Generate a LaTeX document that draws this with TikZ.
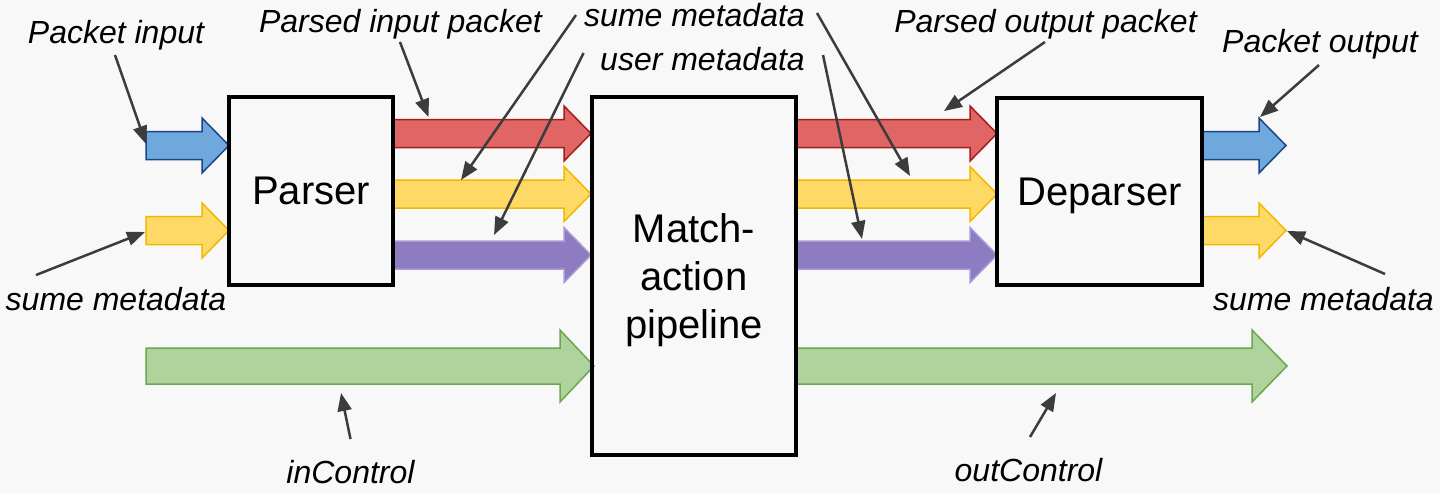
\documentclass[tikz,border=0pt]{standalone}
\usepackage{fontspec}
\setmainfont{Liberation Sans}
\usepackage{xcolor}
\usepackage{tikz}
\usetikzlibrary{arrows.meta}

\definecolor{bgcol}{HTML}{F8F8F8}
\definecolor{ptrgray}{HTML}{3C3C3C}
\definecolor{redfill}{HTML}{E06666}
\definecolor{redline}{HTML}{A61C1C}
\definecolor{bluefill}{HTML}{6FA8DC}
\definecolor{blueline}{HTML}{1C4587}
\definecolor{yelfill}{HTML}{FFD966}
\definecolor{yelline}{HTML}{F1B800}
\definecolor{purfill}{HTML}{8E7CC3}
\definecolor{purline}{HTML}{A99BD6}
\definecolor{grnfill}{HTML}{B0D39E}
\definecolor{grnline}{HTML}{6AA84F}

\tikzset{
  block/.style={draw, line width=1.6pt, inner sep=0pt, text depth=0pt, align=center, font=\fontsize{20}{24}\selectfont},
  lbl/.style={anchor=base, inner sep=0pt, font=\fontsize{16}{19}\selectfont\itshape},
  ptr/.style={draw=ptrgray, line width=1.25pt, -{Triangle[length=9pt,width=7pt]}},
  bus/.style={line width=0.75pt, line join=miter},
  redbus/.style={bus, fill=redfill, draw=redline},
  bluebus/.style={bus, fill=bluefill, draw=blueline},
  yelbus/.style={bus, fill=yelfill, draw=yelline},
  purbus/.style={bus, fill=purfill, draw=purline},
  grnbus/.style={bus, fill=grnfill, draw=grnline}
}

\begin{document}
\begin{tikzpicture}[x=0.5pt, y=-0.5pt]

\fill [bgcol] (0,0) rectangle (1440,493);
\useasboundingbox (0,0) rectangle (1440,493);

% Parser inputs
\draw [bluebus] (146,131.5) -- (202,131.5) -- (202,118) -- (229,145.5) -- (202,173) -- (202,159.5) -- (146,159.5) -- cycle;
\draw [yelbus] (146,216.5) -- (202,216.5) -- (202,203) -- (229,230.5) -- (202,258) -- (202,244.5) -- (146,244.5) -- cycle;

% Parser -> pipeline
\draw [redbus] (393,119.5) -- (564,119.5) -- (564,106) -- (591,133.5) -- (564,161) -- (564,147.5) -- (393,147.5) -- cycle;
\draw [yelbus] (393,180) -- (564,180) -- (564,166.5) -- (591,194) -- (564,221.5) -- (564,208) -- (393,208) -- cycle;
\draw [purbus] (393,241) -- (564,241) -- (564,227.5) -- (591,255) -- (564,282.5) -- (564,269) -- (393,269) -- cycle;

% pipeline -> Deparser
\draw [redbus] (796,119.5) -- (970,119.5) -- (970,106) -- (997,133.5) -- (970,161) -- (970,147.5) -- (796,147.5) -- cycle;
\draw [yelbus] (796,180) -- (970,180) -- (970,166.5) -- (997,194) -- (970,221.5) -- (970,208) -- (796,208) -- cycle;
\draw [purbus] (796,241) -- (970,241) -- (970,227.5) -- (997,255) -- (970,282.5) -- (970,269) -- (796,269) -- cycle;

% Deparser outputs
\draw [bluebus] (1202,131.5) -- (1259,131.5) -- (1259,118) -- (1286,145.5) -- (1259,173) -- (1259,159.5) -- (1202,159.5) -- cycle;
\draw [yelbus] (1202,216.5) -- (1259,216.5) -- (1259,203) -- (1286,230.5) -- (1259,258) -- (1259,244.5) -- (1202,244.5) -- cycle;

% Control
\draw [grnbus] (146,348) -- (560,348) -- (560,330) -- (594,366) -- (560,402) -- (560,384) -- (146,384) -- cycle;
\draw [grnbus] (797,348) -- (1252,348) -- (1252,330) -- (1287,366) -- (1252,402) -- (1252,384) -- (797,384) -- cycle;

%==============================================================================================

% Blocks
\node [block, minimum width=82pt, minimum height=94pt] (P) at (311,191) {Parser};
\node [block, minimum width=102pt, minimum height=179pt] (M) at (694,276) {Match-\\action\\pipeline};
\node [block, minimum width=102.5pt, minimum height=93.5pt] (D) at (1099.5,191.5) {Deparser};

% Naming
\node [lbl] (PI) at (116,43) {Packet input};
\node [lbl] (SMI) at (116,310) {sume metadata};
\node [lbl] (PIP) at (400.5,32) {Parsed input packet};
\node [lbl] (SMM) at (694.5,26) {sume metadata};
\node [lbl] (UM) at (702.5,70) {user metadata};
\node [lbl] (POP) at (1045.5,32) {Parsed output packet};
\node [lbl] (PO) at (1320,52) {Packet output};
\node [lbl] (SMO) at (1323.5,310) {sume metadata};
\node [lbl] (IC) at (350.5,483) {inControl};
\node [lbl] (OC) at (1028.5,481) {outControl};

% Pointers
\coordinate (PIa) at (115,55);    \coordinate (PIb) at (146,144);
\coordinate (SMIa) at (36,275);   \coordinate (SMIb) at (145,232);
\coordinate (PIPa) at (400,42);   \coordinate (PIPb) at (428.5,117);
\coordinate (SMMa) at (576,15);   \coordinate (SMMb) at (461,180);
\coordinate (SMMc) at (817,13);   \coordinate (SMMd) at (910,176);
\coordinate (UMa) at (583.5,53);  \coordinate (UMb) at (494,235);
\coordinate (UMc) at (823,55);    \coordinate (UMd) at (862,239);
\coordinate (POPa) at (1045,42);  \coordinate (POPb) at (944,111);
\coordinate (POa) at (1319,65);   \coordinate (POb) at (1260,117);
\coordinate (SMOa) at (1385,274); \coordinate (SMOb) at (1287,231);
\coordinate (ICa) at (350.5,439); \coordinate (ICb) at (341,393);
\coordinate (OCa) at (1030,437);  \coordinate (OCb) at (1056,393);

\draw [ptr] (PIa) -- (PIb);
\draw [ptr] (SMIa) -- (SMIb);
\draw [ptr] (PIPa) -- (PIPb);
\draw [ptr] (SMMa) -- (SMMb);
\draw [ptr] (SMMc) -- (SMMd);
\draw [ptr] (UMa) -- (UMb);
\draw [ptr] (UMc) -- (UMd);
\draw [ptr] (POPa) -- (POPb);
\draw [ptr] (POa) -- (POb);
\draw [ptr] (SMOa) -- (SMOb);
\draw [ptr] (ICa) -- (ICb);
\draw [ptr] (OCa) -- (OCb);

\end{tikzpicture}
\end{document}
